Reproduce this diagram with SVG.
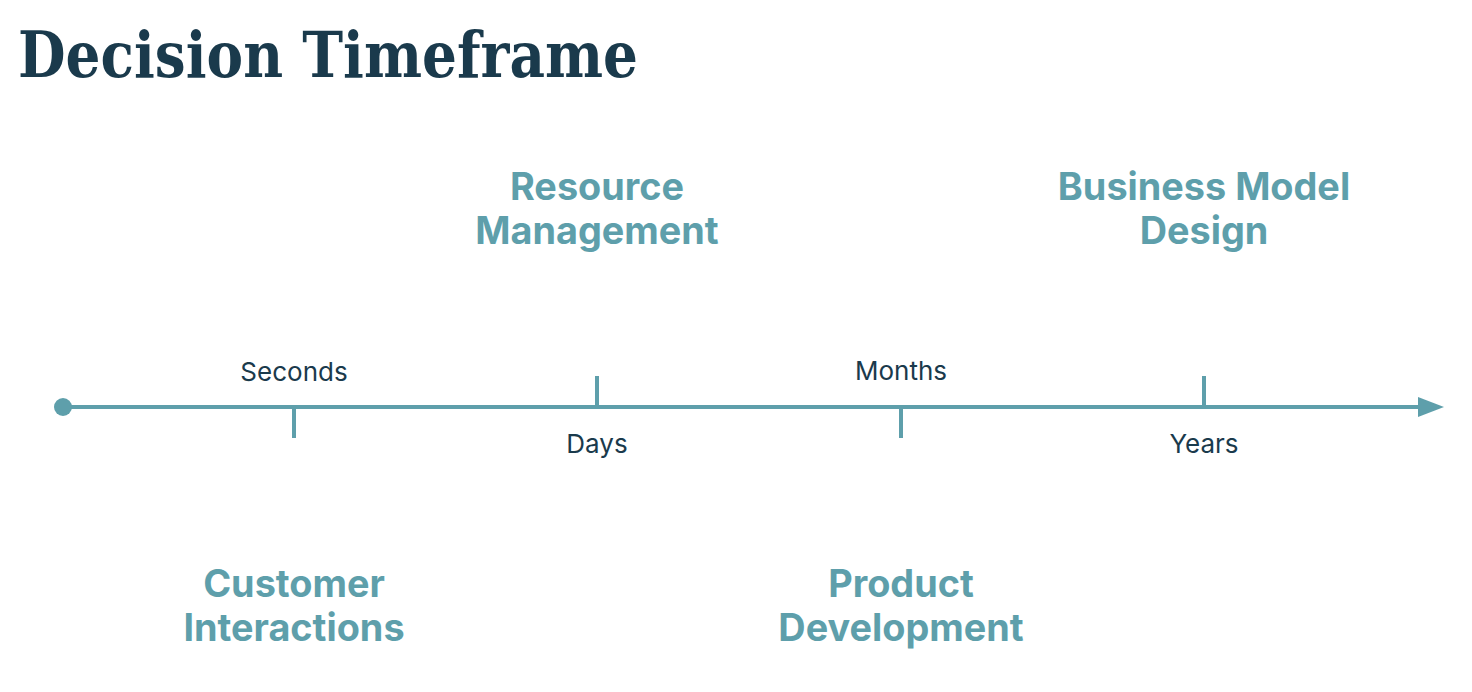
<svg xmlns="http://www.w3.org/2000/svg" width="1472" height="692" viewBox="0 0 1472 692">
<style>
.title{font-family:"DejaVu Serif","Liberation Serif",serif;font-weight:bold;font-size:64px;fill:#1A3A4C}
.grp{font-family:Inter,"Liberation Sans",sans-serif;font-weight:bold;font-size:37.8px;fill:#5E9FAB;text-anchor:middle}
.tick{font-family:Inter,"Liberation Sans",sans-serif;font-size:26px;fill:#1A3A4C;text-anchor:middle}
.ax{stroke:#5E9FAB;stroke-width:4;fill:none}
</style>
<defs>
<marker id="ah" viewBox="0 0 26 20" refX="0" refY="10" markerWidth="26" markerHeight="20" markerUnits="userSpaceOnUse" orient="auto">
<path d="M0,0 L26,10 L0,20 Z" fill="#5E9FAB"/>
</marker>
</defs>
<rect width="1472" height="692" fill="#fff"/>
<text class="title" x="18" y="77" textLength="620" lengthAdjust="spacingAndGlyphs">Decision Timeframe</text>
<g id="connectors">
<line class="ax" x1="63" y1="407" x2="1418" y2="407" marker-end="url(#ah)"/>
<circle cx="63" cy="407" r="9" fill="#5E9FAB"/>
<line class="ax" x1="294" y1="407" x2="294" y2="438"/>
<line class="ax" x1="597" y1="376" x2="597" y2="407"/>
<line class="ax" x1="901" y1="407" x2="901" y2="438"/>
<line class="ax" x1="1204" y1="376" x2="1204" y2="407"/>
</g>
<g id="seconds"><text class="tick" x="294" y="381">Seconds</text></g>
<g id="days"><text class="tick" x="597" y="453">Days</text></g>
<g id="months"><text class="tick" x="901" y="380">Months</text></g>
<g id="years"><text class="tick" x="1204" y="453">Years</text></g>
<g id="resource"><text class="grp" x="597" y="200">Resource</text><text class="grp" x="597" y="244">Management</text></g>
<g id="business"><text class="grp" x="1204" y="200">Business Model</text><text class="grp" x="1204" y="244">Design</text></g>
<g id="customer"><text class="grp" x="294" y="597">Customer</text><text class="grp" x="294" y="641">Interactions</text></g>
<g id="product"><text class="grp" x="901" y="597">Product</text><text class="grp" x="901" y="641">Development</text></g>
</svg>
